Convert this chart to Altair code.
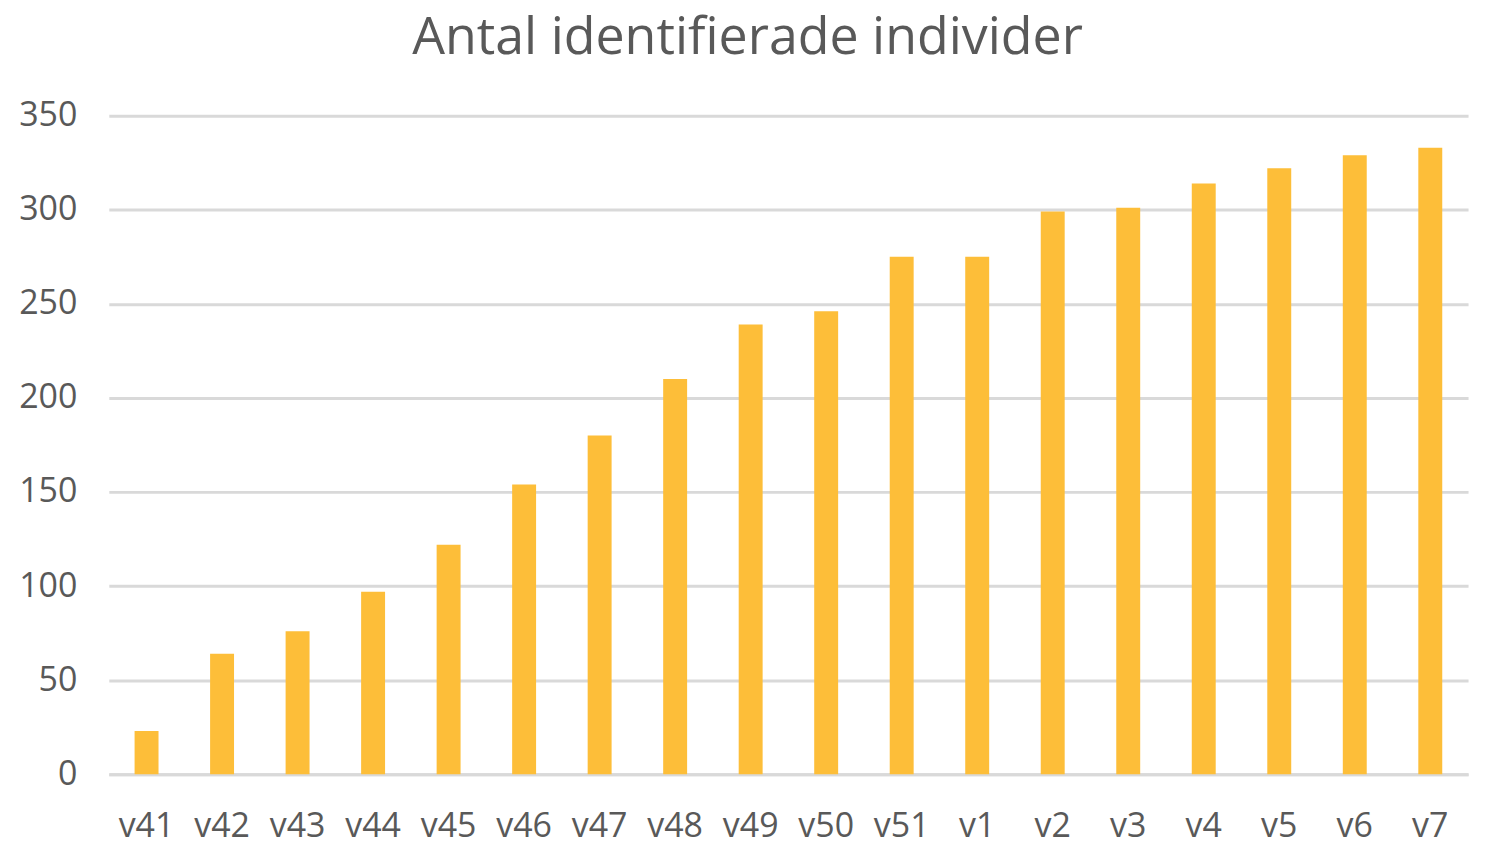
import altair as alt
import pandas as pd

weeks = ["v41", "v42", "v43", "v44", "v45", "v46", "v47", "v48", "v49", "v50",
         "v51", "v1", "v2", "v3", "v4", "v5", "v6", "v7"]
counts = [23, 64, 76, 97, 122, 154, 180, 210, 239, 246,
          275, 275, 299, 301, 314, 322, 329, 333]
y_ticks = [0, 50, 100, 150, 200, 250, 300, 350]

df = pd.DataFrame({"week": weeks, "count": counts})

FONT = "Open Sans"
GRAY = "#595959"

chart = alt.Chart(df).mark_bar(color="#FDBE39").encode(
    x=alt.X("week:N", sort=weeks,
            scale=alt.Scale(paddingInner=0.683, paddingOuter=0.3415),
            axis=alt.Axis(title=None, labelAngle=0, ticks=False, labelPadding=35,
                          labelFontSize=34, labelColor=GRAY, labelFont=FONT,
                          domainColor="#D9D9D9", domainWidth=3)),
    y=alt.Y("count:Q", scale=alt.Scale(domain=[0, 350], nice=False),
            axis=alt.Axis(title=None, values=y_ticks, ticks=False, domain=False,
                          labelPadding=32, labelFontSize=34, labelColor=GRAY,
                          labelFont=FONT, gridColor="#D9D9D9", gridWidth=3)),
).properties(
    width=1362,
    height=660,
    title=alt.TitleParams("Antal identifierade individer", fontSize=52, font=FONT,
                          fontWeight="normal", color=GRAY, anchor="middle",
                          dx=-41, offset=34),
    autosize=alt.AutoSizeParams(type="none"),
    padding={"left": 101, "top": 107, "right": 20, "bottom": 80},
).configure_view(stroke=None)

chart.save("out.html", embed_options={"renderer": "svg", "actions": False})
